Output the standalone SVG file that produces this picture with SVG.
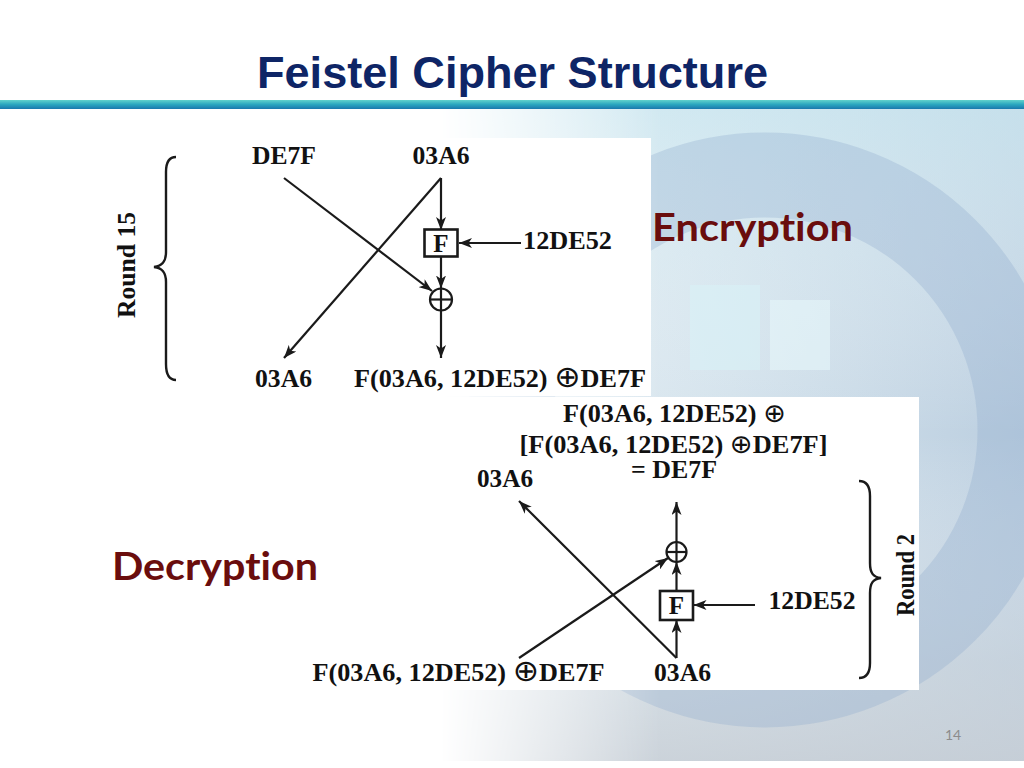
<svg xmlns="http://www.w3.org/2000/svg" width="1024" height="768" viewBox="0 0 1024 768">
  <defs>
    <style>
      .dg { font-family: "Liberation Serif", "DejaVu Serif", serif; font-weight: bold; font-size: 25px; fill: #111; }
      .op { font-family: "DejaVu Sans", sans-serif; font-weight: normal; font-size: 30px; }
      .op2 { font-family: "DejaVu Sans", sans-serif; font-weight: normal; font-size: 26px; }
      .rot { font-family: "Liberation Serif", "DejaVu Serif", serif; font-weight: bold; font-size: 25px; fill: #111; }
      .ln { stroke: #1a1a1a; stroke-width: 2.2; fill: none; }
      .arr { stroke: #1a1a1a; stroke-width: 2.2; fill: none; marker-end: url(#ah); }
      .box { stroke: #1a1a1a; stroke-width: 2.6; fill: #fff; }
      .brace { stroke: #1a1a1a; stroke-width: 2.4; fill: none; }
      .big { font-family: Lato, "Open Sans", sans-serif; font-weight: 700; font-size: 39px; fill: #6a0d0d; font-variant-ligatures: none; }
    </style>
    <marker id="ah" markerUnits="userSpaceOnUse" markerWidth="14" markerHeight="10" refX="13" refY="5" orient="auto">
      <path d="M0,0 L13,5 L0,10 L3.5,5 z" fill="#1a1a1a"/>
    </marker>
    <linearGradient id="fade" x1="440" y1="0" x2="660" y2="0" gradientUnits="userSpaceOnUse">
      <stop offset="0" stop-color="#000"/>
      <stop offset="1" stop-color="#fff"/>
    </linearGradient>
    <mask id="fadeMask" maskUnits="userSpaceOnUse" x="0" y="0" width="1024" height="768">
      <rect x="0" y="109" width="1024" height="652" fill="url(#fade)"/>
    </mask>
    <linearGradient id="bgH" x1="440" y1="0" x2="1024" y2="0" gradientUnits="userSpaceOnUse">
      <stop offset="0" stop-color="#e6eff4"/>
      <stop offset="0.5" stop-color="#d3e2ec"/>
      <stop offset="1" stop-color="#bccfe0"/>
    </linearGradient>
    <linearGradient id="bgV" x1="0" y1="109" x2="0" y2="760" gradientUnits="userSpaceOnUse">
      <stop offset="0" stop-color="#cdebf3" stop-opacity="0.6"/>
      <stop offset="0.5" stop-color="#ffffff" stop-opacity="0"/>
      <stop offset="0.85" stop-color="#d0d5da" stop-opacity="0.5"/>
      <stop offset="1" stop-color="#c8ced5" stop-opacity="0.8"/>
    </linearGradient>
    <linearGradient id="bar" x1="0" y1="100" x2="0" y2="109" gradientUnits="userSpaceOnUse">
      <stop offset="0" stop-color="#62d2cc"/>
      <stop offset="0.5" stop-color="#2ba6bf"/>
      <stop offset="1" stop-color="#1a78ad"/>
    </linearGradient>
    <clipPath id="bgClip"><rect x="0" y="109" width="1024" height="652"/></clipPath>
  </defs>

  <!-- background -->
  <rect width="1024" height="768" fill="#ffffff"/>
  <g id="background" clip-path="url(#bgClip)" mask="url(#fadeMask)">
    <rect x="0" y="109" width="1024" height="652" fill="url(#bgH)"/>
    <rect x="0" y="109" width="1024" height="652" fill="url(#bgV)"/>
    <circle cx="765" cy="430" r="255" fill="none" stroke="#8eaccd" stroke-width="85" opacity="0.32"/>
    <rect x="690" y="285" width="70" height="85" fill="#d8f2f6" opacity="0.6"/>
    <rect x="770" y="300" width="60" height="70" fill="#e6f6fa" opacity="0.6"/>
  </g>

  <!-- title -->
  <g id="title">
    <text x="257" y="88" font-family="'Liberation Sans', Arial, sans-serif" font-weight="bold" font-size="44" fill="#0e2566" textLength="511" lengthAdjust="spacingAndGlyphs">Feistel Cipher Structure</text>
    <rect x="0" y="100" width="1024" height="9" fill="url(#bar)"/>
  </g>

  <!-- white panels -->
  <rect id="panel-enc" x="100" y="138" width="551" height="258" fill="#ffffff"/>
  <rect id="panel-dec" x="300" y="397" width="619" height="293" fill="#ffffff"/>

  <!-- section labels -->
  <g id="label-encryption"><text class="big" x="652" y="241" textLength="201" lengthAdjust="spacingAndGlyphs">Encryption</text></g>
  <g id="label-decryption"><text class="big" x="112" y="580" textLength="206" lengthAdjust="spacingAndGlyphs">Decryption</text></g>

  <!-- ===== Encryption round 15 ===== -->
  <g id="enc-connectors">
    <line class="arr" x1="284" y1="178" x2="432" y2="291"/>
    <line class="arr" x1="441" y1="178" x2="441" y2="230"/>
    <line class="arr" x1="441" y1="178" x2="284" y2="358"/>
    <line class="arr" x1="521" y1="243" x2="459" y2="243"/>
    <line class="arr" x1="441" y1="256" x2="441" y2="288.5"/>
    <line class="arr" x1="441" y1="310.5" x2="441" y2="358"/>
  </g>
  <g id="enc-in-left"><text class="dg" x="252" y="164" textLength="64" lengthAdjust="spacingAndGlyphs">DE7F</text></g>
  <g id="enc-in-right"><text class="dg" x="412.5" y="164" textLength="57" lengthAdjust="spacingAndGlyphs">03A6</text></g>
  <g id="enc-f">
    <rect class="box" x="424.5" y="229.5" width="33" height="27"/>
    <text class="dg" x="441" y="252" text-anchor="middle" font-size="23">F</text>
  </g>
  <g id="enc-key"><text class="dg" x="523" y="249" textLength="89" lengthAdjust="spacingAndGlyphs">12DE52</text></g>
  <g id="enc-xor">
    <circle class="ln" cx="441" cy="299.5" r="11" fill="#fff"/>
    <line class="ln" x1="430" y1="299.5" x2="452" y2="299.5"/>
    <line class="ln" x1="441" y1="288.5" x2="441" y2="310.5"/>
  </g>
  <g id="enc-out-left"><text class="dg" x="255" y="387" textLength="57" lengthAdjust="spacingAndGlyphs">03A6</text></g>
  <g id="enc-out-right"><text class="dg" x="354" y="387" textLength="292" lengthAdjust="spacingAndGlyphs">F(03A6, 12DE52) <tspan class="op">⊕</tspan>DE7F</text></g>
  <g id="enc-brace">
    <path class="brace" d="M176,157 C169,157 166,162 166,172 L166,252 C166,262 162,266 154,267 C162,268 166,272 166,282 L166,364 C166,374 169,380 176,380"/>
    <text class="rot" transform="translate(135,265) rotate(-90)" text-anchor="middle" textLength="106" lengthAdjust="spacingAndGlyphs">Round 15</text>
  </g>

  <!-- ===== Decryption round 2 ===== -->
  <g id="dec-connectors">
    <line class="arr" x1="676.5" y1="658" x2="676.5" y2="620"/>
    <line class="arr" x1="676.5" y1="658" x2="519" y2="501"/>
    <line class="arr" x1="519" y1="658" x2="668" y2="558"/>
    <line class="arr" x1="755" y1="605" x2="693.5" y2="605"/>
    <line class="arr" x1="676.5" y1="591" x2="676.5" y2="562"/>
    <line class="arr" x1="676.5" y1="542" x2="676.5" y2="502"/>
  </g>
  <g id="dec-result">
    <text class="dg" x="563" y="422" textLength="223" lengthAdjust="spacingAndGlyphs">F(03A6, 12DE52) <tspan class="op2">⊕</tspan></text>
    <text class="dg" x="519.5" y="453" textLength="308" lengthAdjust="spacingAndGlyphs">[F(03A6, 12DE52) <tspan class="op2">⊕</tspan>DE7F]</text>
    <text class="dg" x="631" y="478" textLength="86" lengthAdjust="spacingAndGlyphs">= DE7F</text>
  </g>
  <g id="dec-out-left"><text class="dg" x="477" y="487" textLength="56" lengthAdjust="spacingAndGlyphs">03A6</text></g>
  <g id="dec-xor">
    <circle class="ln" cx="676.5" cy="552" r="10" fill="#fff"/>
    <line class="ln" x1="666.5" y1="552" x2="686.5" y2="552"/>
    <line class="ln" x1="676.5" y1="542" x2="676.5" y2="562"/>
  </g>
  <g id="dec-f">
    <rect class="box" x="660" y="591" width="33" height="29"/>
    <text class="dg" x="676.5" y="614" text-anchor="middle" font-size="23">F</text>
  </g>
  <g id="dec-key"><text class="dg" x="768.5" y="609" textLength="87" lengthAdjust="spacingAndGlyphs">12DE52</text></g>
  <g id="dec-in-left"><text class="dg" x="312.5" y="681" textLength="292" lengthAdjust="spacingAndGlyphs">F(03A6, 12DE52) <tspan class="op">⊕</tspan>DE7F</text></g>
  <g id="dec-in-right"><text class="dg" x="654" y="681" textLength="57" lengthAdjust="spacingAndGlyphs">03A6</text></g>
  <g id="dec-brace">
    <path class="brace" d="M859,481 C866,481 870,486 870,496 L870,563 C870,573 873,577 881,578 C873,579 870,583 870,593 L870,663 C870,673 866,678 859,678"/>
    <text class="rot" transform="translate(914,575) rotate(-90)" text-anchor="middle" textLength="82" lengthAdjust="spacingAndGlyphs">Round 2</text>
  </g>

  <!-- page number -->
  <g id="page-number"><text x="945" y="740" font-family="Lato, 'Open Sans', sans-serif" font-size="14" fill="#8c8c8c">14</text></g>
</svg>
